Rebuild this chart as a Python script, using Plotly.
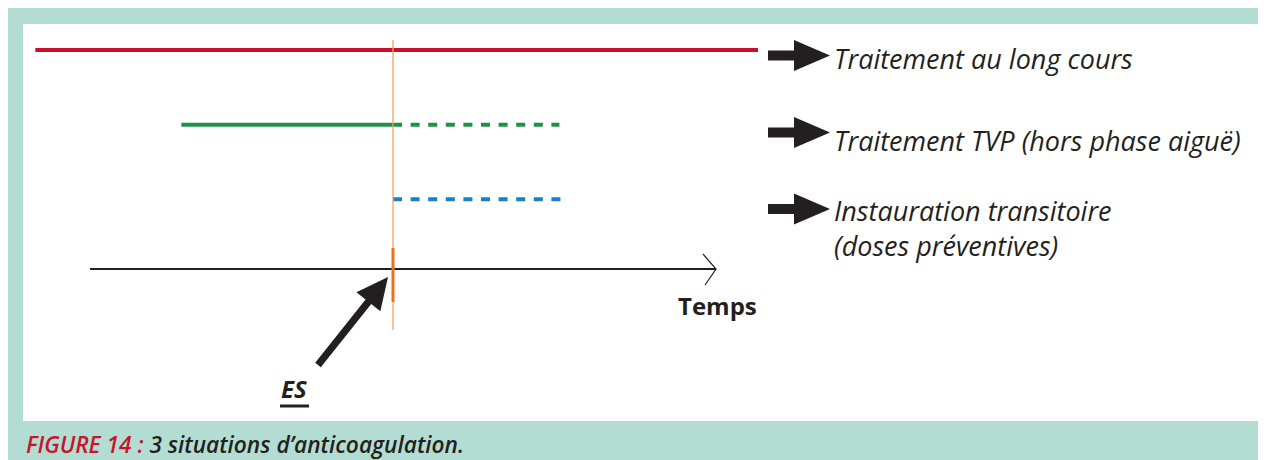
import math
import plotly.graph_objects as go

# ---------------- data ----------------
situations = ["Traitement au long cours", "Traitement TVP (hors phase aiguë)", "Instauration transitoire"]
situation_notes = ["", "", "(doses préventives)"]
rows = [0, 1, 2]
solid_start = [-9.8, -5.8, None]
solid_end = [10.0, 0.0, None]
dashed_start = [None, 0.0, 0.0]
dashed_end = [None, 4.56, 4.6]
line_colors = ["#c8102e", "#1d9149", "#1a80c4"]
time_axis = [-8.3, 8.85]
time_label = "Temps"
event_time = 0.0
event_label = "ES"
caption_head = "FIGURE 14 :"
caption_text = " 3 situations d’anticoagulation."

# ---------------- geometry (screen pixels) ----------------
OFF = 8                      # body margin of page
W, H = 1258, 452
PL, PR, PT, PB = 23, 1263, 24, 421   # plot area in screen px
X0PX, XUNIT = 393.0, 36.5            # t=0 position and px per time unit
Y0PX, YUNIT = 50.0, 74.65            # row 0 position and px per row


def tx(px):
    return (px - X0PX) / XUNIT


def ry(py):
    return (py - Y0PX) / YUNIT


def ppx(px):
    return (px - PL) / (PR - PL)


def ppy(py):
    return (PB - py) / (PB - PT)


TEAL = "#b3ddd3"
INK = "#231f20"
FONT = "Open Sans"

fig = go.Figure()

for i, r in enumerate(rows):
    if solid_start[i] is not None:
        fig.add_trace(go.Scatter(x=[solid_start[i], solid_end[i]], y=[r, r], mode="lines",
                                 line=dict(color=line_colors[i], width=4), hoverinfo="skip"))
    if dashed_start[i] is not None:
        fig.add_trace(go.Scatter(x=[dashed_start[i], dashed_end[i]], y=[r, r], mode="lines",
                                 line=dict(color=line_colors[i], width=4, dash="9px,8.6px"),
                                 hoverinfo="skip"))

axis_row = ry(269)
fig.add_trace(go.Scatter(x=time_axis, y=[axis_row, axis_row], mode="lines",
                         line=dict(color=INK, width=1.8), hoverinfo="skip"))

shapes = []
# chevron at end of time axis
tip_px = X0PX + time_axis[1] * XUNIT
shapes.append(dict(type="path", xref="paper", yref="paper",
                   path=f"M{ppx(tip_px-13)},{ppy(254)} L{ppx(tip_px)},{ppy(269)} L{ppx(tip_px-11)},{ppy(285)}",
                   line=dict(color=INK, width=1.2)))
# ES vertical line
shapes.append(dict(type="line", xref="x", yref="y", x0=event_time, x1=event_time,
                   y0=ry(40), y1=ry(330), line=dict(color="#f4a05e", width=1.3), layer="above"))
shapes.append(dict(type="line", xref="x", yref="y", x0=event_time, x1=event_time,
                   y0=ry(248), y1=ry(302), line=dict(color="#e8731e", width=3), layer="above"))

# block arrows next to labels
for cy in [55.5, 132.5, 209]:
    pts = [(768, cy - 5), (794, cy - 5), (794, cy - 15.5), (830, cy), (794, cy + 15.5),
           (794, cy + 5), (768, cy + 5)]
    path = "M" + " L".join(f"{ppx(a)},{ppy(b)}" for a, b in pts) + " Z"
    shapes.append(dict(type="path", xref="paper", yref="paper", path=path,
                       fillcolor=INK, line=dict(width=0)))

# ES pointer arrow
tail = (318, 365)
tip = (388, 277)
dx, dy = tip[0] - tail[0], tip[1] - tail[1]
L = math.hypot(dx, dy)
ux, uy = dx / L, dy / L
nx, ny = -uy, ux
hl, hw, sw = 31.5, 15.3, 3.6
bx, by = tip[0] - hl * ux, tip[1] - hl * uy
pts = [(tail[0] + sw * nx, tail[1] + sw * ny), (bx + sw * nx, by + sw * ny),
       (bx + hw * nx, by + hw * ny), tip, (bx - hw * nx, by - hw * ny),
       (bx - sw * nx, by - sw * ny), (tail[0] - sw * nx, tail[1] - sw * ny)]
path = "M" + " L".join(f"{ppx(a)},{ppy(b)}" for a, b in pts) + " Z"
shapes.append(dict(type="path", xref="paper", yref="paper", path=path,
                   fillcolor=INK, line=dict(width=0)))
# ES underline
shapes.append(dict(type="line", xref="paper", yref="paper", x0=ppx(280), x1=ppx(309),
                   y0=ppy(406), y1=ppy(406), line=dict(color=INK, width=3)))

annotations = []
label_y = [58, 140, 210]
for i, s in enumerate(situations):
    annotations.append(dict(text=s, xref="paper", yref="paper", x=ppx(832), y=ppy(label_y[i]),
                            xanchor="left", yanchor="middle", showarrow=False,
                            font=dict(family=FONT, size=27, color=INK, style="italic")))
    if situation_notes[i]:
        annotations.append(dict(text=situation_notes[i], xref="paper", yref="paper", x=ppx(832),
                                y=ppy(label_y[i] + 35), xanchor="left", yanchor="middle",
                                showarrow=False,
                                font=dict(family=FONT, size=27, color=INK, style="italic")))

annotations.append(dict(text=f"<b>{time_label}</b>", xref="paper", yref="paper", x=ppx(718), y=ppy(305),
                        xanchor="center", yanchor="middle", showarrow=False,
                        font=dict(family=FONT, size=24, color=INK)))
annotations.append(dict(text=f"<b>{event_label}</b>", xref="paper", yref="paper", x=ppx(294), y=ppy(388),
                        xanchor="center", yanchor="middle", showarrow=False,
                        font=dict(family=FONT, size=24, color=INK, style="italic")))
annotations.append(dict(text=f"<span style='color:#c5162e'>{caption_head}</span>{caption_text}",
                        xref="paper", yref="paper", x=ppx(24), y=ppy(445),
                        xanchor="left", yanchor="middle", showarrow=False,
                        font=dict(family=FONT, size=22.7, color=INK, style="italic", weight=600)))

fig.update_layout(
    width=W, height=H, autosize=False,
    margin=dict(l=PL - OFF, r=(OFF + W) - PR, t=PT - OFF, b=(OFF + H) - PB, pad=0),
    paper_bgcolor=TEAL, plot_bgcolor="white",
    showlegend=False,
    xaxis=dict(range=[tx(PL), tx(PR)], visible=False, fixedrange=True),
    yaxis=dict(range=[ry(PB), ry(PT)], visible=False, fixedrange=True),
    shapes=shapes, annotations=annotations,
)

fig.write_html("out.html")
